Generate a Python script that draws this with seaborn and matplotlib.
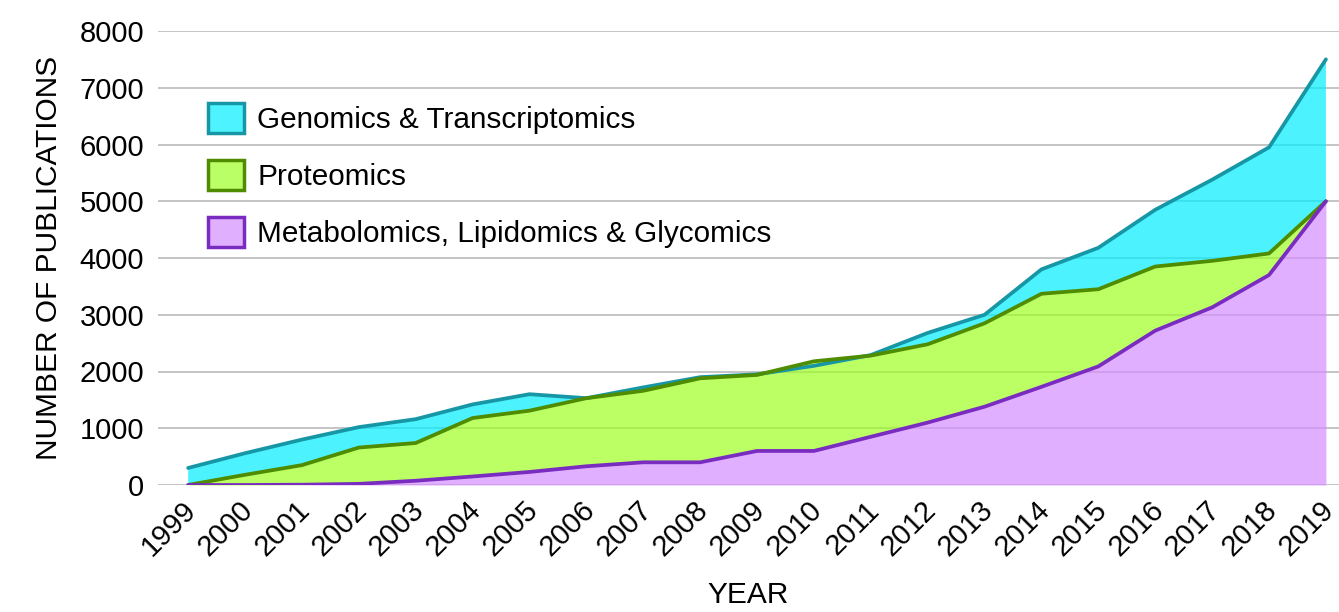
import numpy as np
import pandas as pd
import matplotlib
matplotlib.use("Agg")
import matplotlib.pyplot as plt
import matplotlib.transforms as mtransforms
import seaborn as sns
from matplotlib.patches import Patch

sns.set_style("whitegrid")
plt.rcParams['font.family'] = ['Liberation Sans', 'DejaVu Sans']
plt.rcParams['text.color'] = 'black'
plt.rcParams['axes.labelcolor'] = 'black'
plt.rcParams['xtick.color'] = 'black'
plt.rcParams['ytick.color'] = 'black'

years = list(range(1999, 2020))
genomics = [300, 560, 800, 1020, 1160, 1420, 1600, 1530, 1720, 1900, 1950,
            2100, 2290, 2680, 3000, 3800, 4180, 4850, 5380, 5950, 7500]
proteomics = [0, 180, 350, 660, 740, 1180, 1310, 1530, 1660, 1880, 1940,
              2180, 2280, 2480, 2850, 3370, 3450, 3850, 3950, 4080, 5000]
metabolomics = [0, 0, 5, 20, 75, 150, 230, 330, 400, 400, 600,
                600, 850, 1100, 1380, 1730, 2090, 2720, 3130, 3700, 5000]

labels = ['Genomics & Transcriptomics', 'Proteomics', 'Metabolomics, Lipidomics & Glycomics']
fills = ['#00eeff', '#9eff24', '#d58eff']
edges = ['#1797a6', '#4f8c00', '#7a2cc0']

df = pd.DataFrame({'year': years, labels[0]: genomics,
                   labels[1]: proteomics, labels[2]: metabolomics})

fig = plt.figure(figsize=(13.39, 6.12), dpi=100)
ax = fig.add_axes([158/1339, 127/612, 1181/1339, 454/612])

# each area is drawn only where it is not hidden by the one in front of it,
# so the translucent colours do not mix with each other
x = np.array(years, dtype=float)
g = np.array(genomics, dtype=float)
p = np.array(proteomics, dtype=float)
m = np.array(metabolomics, dtype=float)
lows = [np.maximum(p, m), m, np.zeros_like(m)]
highs = [g, p, m]
for lo, hi, fc in zip(lows, highs, fills):
    ax.fill_between(x, lo, hi, where=hi >= lo, interpolate=True,
                    color=fc, alpha=0.7, linewidth=0, zorder=2)

for lab, ec in zip(labels, edges):
    sns.lineplot(data=df, x='year', y=lab, ax=ax, color=ec, linewidth=2.7, zorder=3)

ax.set_xlim(1998.47, 2019.23)
ax.set_ylim(0, 8000)
ax.set_xticks(years)
ax.set_xticklabels([str(y) for y in years], rotation=45, ha='right', rotation_mode='anchor')
ax.set_yticks(range(0, 8001, 1000))
ax.tick_params(axis='both', labelsize=21, length=0)
ax.tick_params(axis='y', pad=10)
ax.tick_params(axis='x', pad=8)
shift = mtransforms.ScaledTranslation(-6/100, 0, fig.dpi_scale_trans)
for t in ax.get_xticklabels():
    t.set_transform(t.get_transform() + shift)
ax.xaxis.grid(False)
ax.yaxis.grid(True, color='#c4c4c4', linewidth=1.4)
ax.set_axisbelow(True)
for s in ax.spines.values():
    s.set_visible(False)

ax.set_xlabel('YEAR', fontsize=21.5, labelpad=14)
ax.set_ylabel('NUMBER OF PUBLICATIONS', fontsize=21.5, labelpad=12)

handles = [Patch(facecolor=fc, edgecolor=ec, linewidth=2.5)
           for fc, ec in zip(['#4df3ff', '#bbff66', '#e0b0ff'], edges)]
ax.legend(handles, labels, loc='upper left', bbox_to_anchor=(0.0425, 0.842),
          frameon=False, fontsize=21.4, handlelength=1.2, handleheight=1.2,
          handletextpad=0.45, labelspacing=0.87, borderpad=0, borderaxespad=0)

fig.savefig('out.png', dpi=100)
